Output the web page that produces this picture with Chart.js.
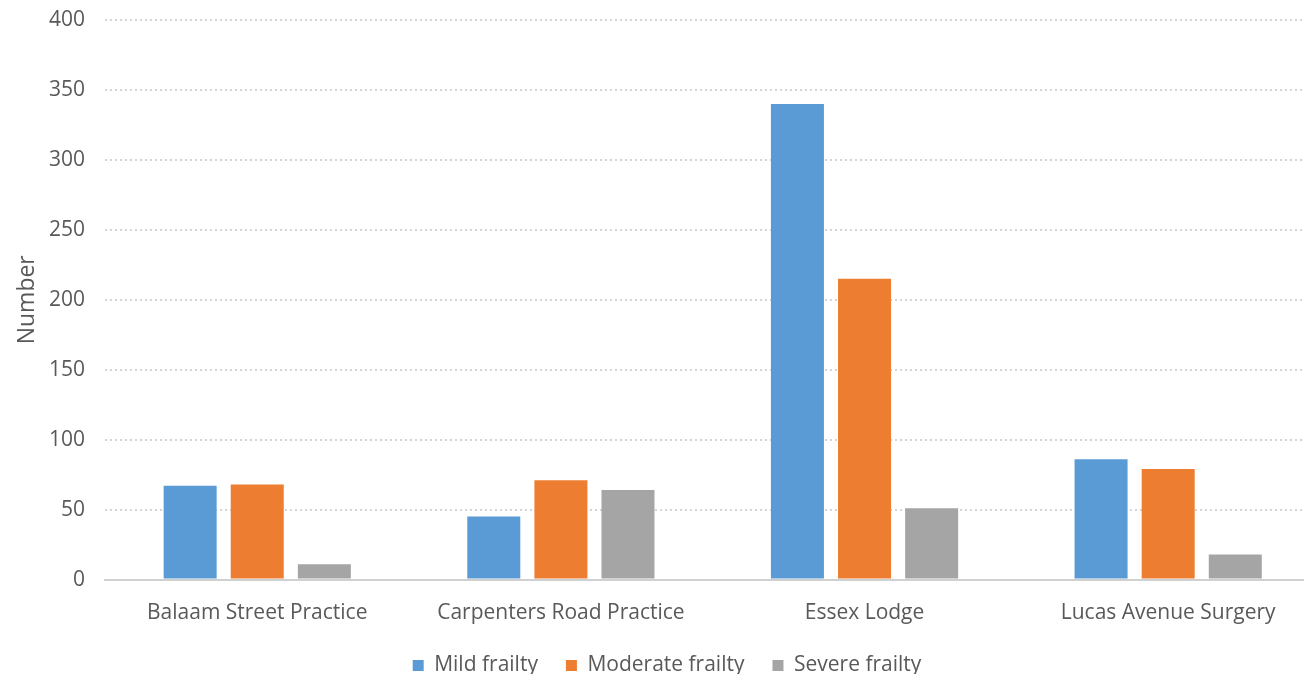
<!DOCTYPE html>
<html>
<head>
<meta charset="utf-8">
<script src="https://cdn.jsdelivr.net/npm/chart.js@4"></script>
<style>
  html, body { margin: 0; padding: 0; background: #fff; overflow: hidden; }
  /* the original is cropped on the right, so the canvas is a bit wider than the window */
  #wrap { width: 1320px; height: 674px; }
</style>
</head>
<body>
<div id="wrap"><canvas id="frailty_chart"></canvas></div>
<script>
// practices and frailty counts
const practices = ['Balaam Street Practice', 'Carpenters Road Practice', 'Essex Lodge', 'Lucas Avenue Surgery'];
const mild_frailty = [67, 45, 340, 86];
const moderate_frailty = [68, 71, 215, 79];
const severe_frailty = [11, 64, 51, 18];

const text_grey = '#595959';
const font_family = '"Open Sans", "Segoe UI", sans-serif';

const data_frailty = {
    labels: practices,
    datasets: [{
        label: 'Mild frailty',
        backgroundColor: '#5B9BD5',
        data: mild_frailty,
    },
    {
        label: 'Moderate frailty',
        backgroundColor: '#ED7D31',
        data: moderate_frailty,
    },
    {
        label: 'Severe frailty',
        backgroundColor: '#A5A5A5',
        data: severe_frailty,
    }]
};

const config_frailty = {
    type: 'bar',
    data: data_frailty,
    options: {
        responsive: true,
        maintainAspectRatio: false,
        animation: false,
        categoryPercentage: 0.663,
        barPercentage: 0.79,
        layout: { padding: { top: 0, right: 0, left: 14, bottom: -12 } },
        plugins: {
            legend: {
                position: 'bottom',
                labels: {
                    color: text_grey,
                    font: { family: font_family, size: 21 },
                    boxWidth: 11,
                    boxHeight: 11,
                    padding: 28
                }
            },
            tooltip: { enabled: false }
        },
        scales: {
            x: {
                // ticks hidden, tickLength only pushes the labels down
                grid: { display: false, drawTicks: true, tickLength: 19.5 },
                border: { display: true, color: '#d0d0d0', width: 2 },
                ticks: {
                    color: text_grey,
                    font: { family: font_family, size: 21, lineHeight: 1.33 },
                    padding: 0
                }
            },
            y: {
                min: 0,
                max: 400,
                ticks: {
                    stepSize: 50,
                    color: text_grey,
                    font: { family: font_family, size: 21, lineHeight: 1.2 },
                    padding: 7.4
                },
                grid: { color: '#d4d4d4', lineWidth: 2, drawTicks: true, tickLength: 13, tickColor: 'rgba(0,0,0,0)' },
                border: { display: false, dash: [2, 3] },
                title: {
                    display: true,
                    text: 'Number',
                    color: text_grey,
                    font: { family: font_family, size: 23 },
                    padding: { top: 0, bottom: 0 }
                }
            }
        }
    }
};

const grafico_frailty = new Chart(
    document.getElementById('frailty_chart'),
    config_frailty
);
</script>
</body>
</html>
